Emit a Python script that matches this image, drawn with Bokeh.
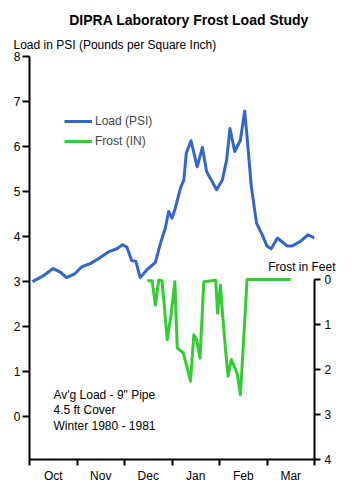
from bokeh.plotting import figure
from bokeh.models import Range1d, LinearAxis, FixedTicker, Legend, LegendItem, Label
from bokeh.embed import file_html
from bokeh.resources import INLINE

# ---------------- data ----------------
months = ["Oct", "Nov", "Dec", "Jan", "Feb", "Mar"]
month_label_pos = [0.5, 1.5, 2.5, 3.5, 4.5, 5.5]
month_bounds = [0, 1, 2, 3, 4, 5, 6]

# x in months since Oct 1
load_x = [0.06, 0.26, 0.50, 0.65, 0.78, 0.96, 1.10, 1.28, 1.45, 1.66, 1.84, 1.96,
          2.05, 2.15, 2.24, 2.33, 2.50, 2.65, 2.76, 2.86, 2.93, 3.00, 3.07, 3.18,
          3.25, 3.30, 3.40, 3.53, 3.64, 3.73, 3.94, 4.06, 4.15, 4.22, 4.32, 4.44,
          4.53, 4.58, 4.67, 4.78, 4.90, 5.00, 5.09, 5.22, 5.43, 5.53, 5.71, 5.86, 6.00]
load_psi = [3.00, 3.11, 3.29, 3.21, 3.09, 3.18, 3.33, 3.40, 3.51, 3.66, 3.73, 3.82,
            3.77, 3.47, 3.45, 3.09, 3.29, 3.43, 3.86, 4.19, 4.56, 4.41, 4.63, 5.08,
            5.26, 5.85, 6.13, 5.55, 5.98, 5.44, 5.04, 5.26, 5.70, 6.40, 5.89, 6.14,
            6.79, 6.22, 5.11, 4.30, 4.04, 3.79, 3.73, 3.97, 3.79, 3.79, 3.90, 4.04, 3.97]

frost_x = [2.48, 2.58, 2.65, 2.72, 2.79, 2.90, 2.98, 3.06, 3.11, 3.24, 3.39, 3.46,
           3.52, 3.59, 3.67, 3.92, 3.96, 4.02, 4.06, 4.13, 4.18, 4.25, 4.37, 4.44,
           4.53, 4.58, 4.90, 5.50]
frost_ft = [0.03, 0.03, 0.57, 0.02, 0.03, 1.34, 0.79, 0.05, 1.52, 1.64, 2.26, 1.23,
            1.34, 1.75, 0.05, 0.02, 0.75, 0.13, 0.71, 1.60, 2.15, 1.78, 2.08, 2.56,
            0.93, 0.00, 0.00, 0.00]

load_ticks = [0, 1, 2, 3, 4, 5, 6, 7, 8]
frost_ticks = [0, 1, 2, 3, 4]

FONT = "Liberation Sans"
BLUE = "#3366cc"
GREEN = "#33cc33"

p = figure(width=353, height=485, output_backend="svg", toolbar_location=None,
           x_range=Range1d(0, 6), y_range=Range1d(-0.95, 8),
           x_axis_location=None, y_axis_location=None,
           min_border_left=29, min_border_right=39, min_border_top=56, min_border_bottom=24)
p.extra_y_ranges = {"frost": Range1d(start=4, end=-4.95)}
p.grid.visible = False
p.outline_line_color = None
p.background_fill_color = "white"
p.border_fill_color = "white"

# bottom axis: month labels centred, boundary ticks as minor ticks
xaxis = LinearAxis(ticker=FixedTicker(ticks=month_label_pos, minor_ticks=month_bounds),
                   major_label_overrides={pos: m for pos, m in zip(month_label_pos, months)})
xaxis.major_tick_out = 0
xaxis.major_tick_in = 0
xaxis.minor_tick_out = 6
xaxis.minor_tick_in = 0
xaxis.minor_tick_line_width = 2
xaxis.minor_tick_line_color = "black"
xaxis.major_label_standoff = 3
p.add_layout(xaxis, "below")

yaxis = LinearAxis(ticker=FixedTicker(ticks=load_ticks))
yaxis.major_tick_out = 7
yaxis.major_tick_in = 0
yaxis.minor_tick_out = 0
yaxis.minor_tick_in = 0
yaxis.major_tick_line_width = 2
yaxis.major_label_standoff = 2
p.add_layout(yaxis, "left")

raxis = LinearAxis(y_range_name="frost", ticker=FixedTicker(ticks=frost_ticks), bounds=(0, 4))
raxis.major_tick_out = 6
raxis.major_tick_in = 0
raxis.minor_tick_out = 0
raxis.minor_tick_in = 0
raxis.major_tick_line_width = 2
raxis.major_label_standoff = 4
p.add_layout(raxis, "right")

for ax in (xaxis, yaxis, raxis):
    ax.major_label_text_font = FONT
    ax.major_label_text_font_size = "12px"
    ax.major_label_text_color = "black"
    ax.axis_line_color = "black"
    ax.axis_line_width = 2
    ax.major_tick_line_color = "black" if ax is not xaxis else None

r_load = p.line(load_x, load_psi, line_color=BLUE, line_width=3, line_join="round")
r_frost = p.line(frost_x, frost_ft, line_color=GREEN, line_width=3, line_join="round",
                 y_range_name="frost")

legend = Legend(items=[LegendItem(label="Load (PSI)", renderers=[r_load]),
                       LegendItem(label="Frost (IN)", renderers=[r_frost])],
                location=(35, 308), padding=0, margin=0, spacing=0,
                label_height=20, glyph_height=20, glyph_width=28, label_standoff=3,
                border_line_color=None, background_fill_alpha=0,
                label_text_font=FONT, label_text_font_size="12px")
p.add_layout(legend)

# captions outside the frame live in the top panel (frame-placed labels get clipped);
# offsets are in pixels relative to each label's own panel
def top_label(x, y, text, **kw):
    opts = dict(x_units="screen", y_units="screen", text_font=FONT, text_font_size="12px",
                text_color="black", text_baseline="middle")
    opts.update(kw)
    p.add_layout(Label(x=x, y=y, text=text, **opts), "above")

top_label(306, -210, "Frost in Feet", text_align="right")
top_label(-16, -2, "Load in PSI (Pounds per Square Inch)")
top_label(159.5, 9, "DIPRA Laboratory Frost Load Study", text_align="center",
          text_font_style="bold", text_font_size="14px")

def lab(x, y, text):
    p.add_layout(Label(x=x, y=y, text=text, text_font=FONT, text_font_size="12px",
                       text_color="black", text_baseline="middle"))

lab(0.505, 0.486, "Av'g Load - 9\" Pipe")
lab(0.505, 0.155, "4.5 ft Cover")
lab(0.505, -0.199, "Winter 1980 - 1981")

open("out.html", "w").write(file_html(p, INLINE))
